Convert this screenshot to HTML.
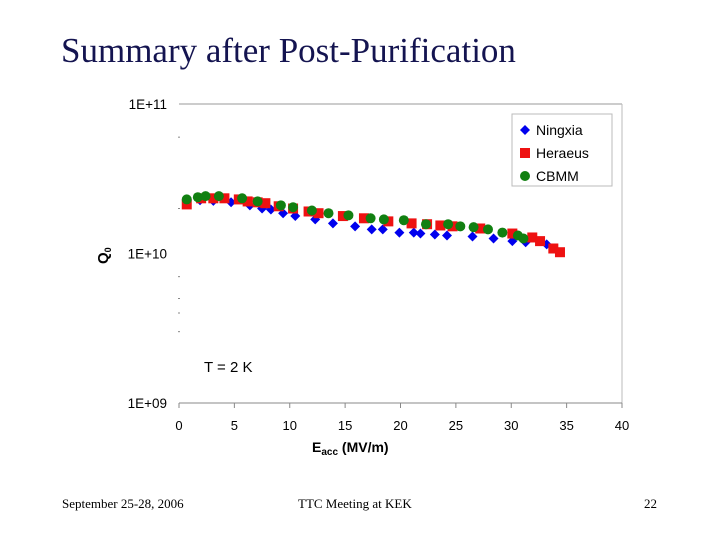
<!DOCTYPE html>
<html><head><meta charset="utf-8"><style>
body{margin:0;background:#fff;width:720px;height:540px;overflow:hidden;font-family:"Liberation Sans",sans-serif}
.t{position:absolute;font-family:"Liberation Serif",serif}
</style></head><body>
<div class="t" style="left:61px;top:31px;font-size:35px;color:#141450">Summary after Post-Purification</div>
<div class="t" style="left:62px;top:496px;font-size:13px">September 25-28, 2006</div>
<div class="t" style="left:298px;top:496px;font-size:13px">TTC Meeting at KEK</div>
<div class="t" style="left:644px;top:496px;font-size:13px">22</div>
<svg id="c" width="720" height="540" style="position:absolute;left:0;top:0"></svg>
<script>
const xTicks=[0,5,10,15,20,25,30,35,40];
const yTickExps=[9,10,11];
const yTickLabels=["1E+09","1E+10","1E+11"];
const minorQ=[6e10,2e10,7e9,5e9,4e9,3e9];
const nxE=[0.7,1.9,3.1,4.7,6.4,7.5,8.3,9.4,10.5,12.3,13.9,15.9,17.4,18.4,19.9,21.2,21.8,23.1,24.2,26.5,28.4,30.1,31.3,33.2];
const nxQ=[2.27,2.27,2.25,2.20,2.10,2.00,1.97,1.86,1.78,1.69,1.59,1.52,1.45,1.45,1.38,1.38,1.36,1.34,1.32,1.30,1.26,1.21,1.19,1.15];
const hrE=[0.7,2.0,3.1,4.1,5.4,6.2,7.1,7.8,9.0,10.3,11.7,12.6,14.8,16.7,18.9,21.0,22.4,23.6,24.7,27.2,30.1,31.9,32.6,33.8,34.4];
const hrQ=[2.13,2.34,2.34,2.34,2.30,2.23,2.20,2.17,2.07,2.00,1.91,1.86,1.78,1.72,1.64,1.59,1.57,1.54,1.52,1.47,1.36,1.28,1.21,1.08,1.02];
const cbE=[0.7,1.7,2.4,3.6,5.7,7.1,9.2,10.3,12.0,13.5,15.3,17.3,18.5,20.3,22.3,24.3,25.4,26.6,27.9,29.2,30.6,31.1];
const cbQ=[2.30,2.38,2.42,2.42,2.34,2.23,2.10,2.04,1.94,1.86,1.80,1.72,1.69,1.67,1.57,1.57,1.52,1.50,1.45,1.38,1.32,1.26];
const X0=179,X1=622,Y0=104,Y1=403;
const sx=v=>X0+(v-0)/(40-0)*(X1-X0);
const sy=q=>Y1-(Math.log10(q)-9)/(11-9)*(Y1-Y0);
const svg=document.getElementById('c');const NS='http://www.w3.org/2000/svg';
function mk(tag,at,txt){const e=document.createElementNS(NS,tag);for(const k in at)e.setAttribute(k,at[k]);if(txt!==undefined)e.textContent=txt;svg.appendChild(e);return e;}
let e;
e=mk('line',{x1:X0,y1:sy(1e11),x2:X1,y2:sy(1e11),stroke:'#999'});


e=mk('line',{x1:X1,y1:Y0,x2:X1,y2:Y1,stroke:'#bbb'});


e=mk('line',{x1:X0,y1:Y1,x2:X1,y2:Y1,stroke:'#888'});


xTicks.forEach(t=>{
 e=mk('line',{x1:sx(t),y1:Y1,x2:sx(t),y2:Y1+5,stroke:'#888'});
 
 
 e=mk('text',{x:sx(t),y:Y1+27,'text-anchor':'middle','font-size':13,fill:'#000'},String(t));
 
 
});
yTickExps.forEach((p,i)=>{
 e=mk('text',{x:167,y:sy(Math.pow(10,p))+5,'text-anchor':'end','font-size':13.5,fill:'#000'},yTickLabels[i]);
 
 
});
minorQ.forEach(q=>{
 e=mk('line',{x1:X0-1,y1:sy(q),x2:X0+1,y2:sy(q),stroke:'#888'});
 
 
});
e=mk('text',{x:312,y:452,'font-size':14,'font-weight':'bold',fill:'#000'});


e.innerHTML='E<tspan font-size="10" dy="3">acc</tspan><tspan dy="-3"> (MV/m)</tspan>';
e=mk('text',{x:0,y:0,'font-size':15,'font-weight':'bold',transform:'translate(108,264) rotate(-90)',fill:'#000'});


e.innerHTML='Q<tspan font-size="9" dy="3">0</tspan>';
e=mk('text',{x:204,y:372,'font-size':15,fill:'#000'},'T = 2 K');


function diamond(x,y){return mk('polygon',{points:`${x},${y-5} ${x+5},${y} ${x},${y+5} ${x-5},${y}`,fill:'#0000ee'});}
function square(x,y){return mk('rect',{x:x-5,y:y-5,width:10,height:10,fill:'#ee1111'});}
function circle(x,y){return mk('circle',{cx:x,cy:y,r:5,fill:'#118011'});}
nxE.forEach((v,i)=>{e=diamond(sx(v),sy(nxQ[i]*1e10));
 
 });
hrE.forEach((v,i)=>{e=square(sx(v),sy(hrQ[i]*1e10));
 
 });
cbE.forEach((v,i)=>{e=circle(sx(v),sy(cbQ[i]*1e10));
 
 });
e=mk('rect',{x:512,y:114,width:100,height:72,fill:'#fff',stroke:'#bbb'});


const legNames=['Ningxia','Heraeus','CBMM'];
const legFns=[diamond,square,circle];
legNames.forEach((n,i)=>{const y=130+i*23;
 e=legFns[i](525,y);
 
 
 e=mk('text',{x:536,y:y+5,'font-size':14,fill:'#000'},n);
 
 
});
</script>
</body></html>
